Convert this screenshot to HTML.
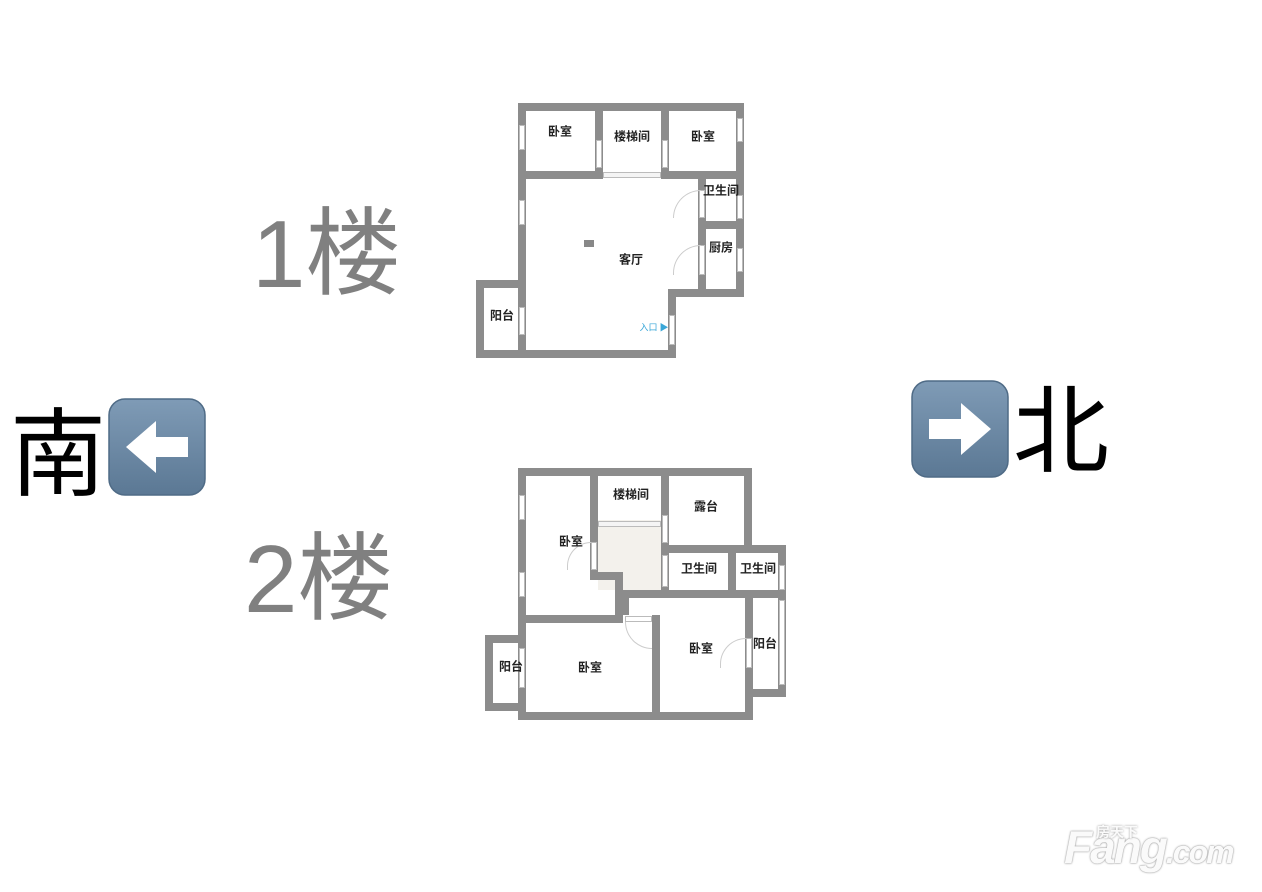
<!DOCTYPE html>
<html><head><meta charset="utf-8"><style>
html,body{margin:0;padding:0;background:#fff;}
body{width:1262px;height:892px;position:relative;overflow:hidden;font-family:"Liberation Sans","Noto Sans CJK SC",sans-serif;}
.w{position:absolute;background:#8c8c8c;}
.win{position:absolute;background:#fff;border:1px solid #bbb;box-sizing:border-box;}
.l{position:absolute;font-size:12px;font-weight:bold;color:#222;transform:translate(-50%,-50%);white-space:nowrap;font-family:"Noto Sans CJK SC",sans-serif;}
.big{position:absolute;font-family:"Liberation Sans","Noto Sans CJK SC",sans-serif;line-height:1;}
.door{position:absolute;border:1px solid #ccc;box-sizing:border-box;}
</style></head><body>

<!-- Big labels -->
<div class="big" style="left:252px;top:207px;font-size:96px;color:#808080;">1楼</div>
<div class="big" style="left:244px;top:532px;font-size:96px;color:#808080;">2楼</div>
<div class="big" style="left:10px;top:397px;font-size:96px;color:#000;font-family:'Noto Sans CJK SC',sans-serif;line-height:100px;">南</div>
<div class="big" style="left:1013px;top:374px;font-size:96px;color:#000;font-family:'Noto Sans CJK SC',sans-serif;line-height:100px;">北</div>

<!-- Arrow boxes -->
<svg style="position:absolute;left:108px;top:398px" width="98" height="98">
<defs><linearGradient id="g" x1="0" y1="0" x2="0" y2="1"><stop offset="0" stop-color="#7f9bb6"/><stop offset="1" stop-color="#5b7894"/></linearGradient></defs>
<rect x="1" y="1" width="96" height="96" rx="16" fill="url(#g)" stroke="#4f6b86" stroke-width="1.5"/>
<polygon points="18,49 48,23 48,39 80,39 80,59 48,59 48,75" fill="#fff"/>
</svg>
<svg style="position:absolute;left:911px;top:380px" width="98" height="98">
<rect x="1" y="1" width="96" height="96" rx="16" fill="url(#g)" stroke="#4f6b86" stroke-width="1.5"/>
<polygon points="80,49 50,23 50,39 18,39 18,59 50,59 50,75" fill="#fff"/>
</svg>

<!-- Floor 1 walls -->
<div class="w" style="left:518px;top:103px;width:226px;height:8px"></div>
<div class="w" style="left:518px;top:103px;width:8px;height:255px"></div>
<div class="w" style="left:518px;top:171px;width:85px;height:8px"></div>
<div class="w" style="left:661px;top:171px;width:83px;height:8px"></div>
<div class="win" style="left:603px;top:172px;width:58px;height:6px;background:#f4f4f4"></div>
<div class="w" style="left:595px;top:103px;width:8px;height:76px"></div>
<div class="w" style="left:661px;top:103px;width:8px;height:76px"></div>
<div class="w" style="left:736px;top:103px;width:8px;height:194px"></div>
<div class="w" style="left:698px;top:179px;width:8px;height:118px"></div>
<div class="w" style="left:698px;top:221px;width:46px;height:8px"></div>
<div class="w" style="left:668px;top:289px;width:76px;height:8px"></div>
<div class="w" style="left:668px;top:289px;width:8px;height:69px"></div>
<div class="w" style="left:476px;top:350px;width:200px;height:8px"></div>
<div class="w" style="left:476px;top:280px;width:8px;height:78px"></div>
<div class="w" style="left:476px;top:280px;width:50px;height:8px"></div>
<!-- F1 windows/doors -->
<div class="win" style="left:519px;top:125px;width:6px;height:25px"></div>
<div class="win" style="left:519px;top:200px;width:6px;height:25px"></div>
<div class="win" style="left:519px;top:307px;width:6px;height:28px"></div>
<div class="win" style="left:737px;top:118px;width:6px;height:24px"></div>
<div class="win" style="left:737px;top:195px;width:6px;height:24px"></div>
<div class="win" style="left:737px;top:248px;width:6px;height:24px"></div>
<div class="win" style="left:596px;top:140px;width:6px;height:28px"></div>
<div class="win" style="left:662px;top:140px;width:6px;height:28px"></div>
<div class="win" style="left:699px;top:190px;width:6px;height:28px"></div>
<div class="win" style="left:699px;top:245px;width:6px;height:30px"></div>
<div class="win" style="left:669px;top:315px;width:6px;height:30px"></div>
<div class="door" style="left:673px;top:190px;width:28px;height:28px;border-radius:28px 0 0 0;border-right:none;border-bottom:none"></div>
<div class="door" style="left:673px;top:245px;width:28px;height:30px;border-radius:30px 0 0 0;border-right:none;border-bottom:none"></div>
<div class="w" style="left:584px;top:240px;width:10px;height:7px;background:#888"></div>

<div class="l" style="left:560px;top:131px">卧室</div>
<div class="l" style="left:632px;top:136px">楼梯间</div>
<div class="l" style="left:703px;top:136px">卧室</div>
<div class="l" style="left:721px;top:190px">卫生间</div>
<div class="l" style="left:721px;top:247px">厨房</div>
<div class="l" style="left:631px;top:259px">客厅</div>
<div class="l" style="left:502px;top:315px">阳台</div>
<div class="l" style="left:654px;top:327px;color:#3aa7d8;font-size:9px;font-weight:normal">入口 ▶</div>

<!-- Floor 2 walls -->
<div style="position:absolute;left:598px;top:520px;width:63px;height:70px;background:#f3f1ec"></div>
<div class="w" style="left:518px;top:468px;width:234px;height:8px"></div>
<div class="w" style="left:518px;top:468px;width:8px;height:252px"></div>
<div class="w" style="left:590px;top:468px;width:8px;height:112px"></div>
<div class="w" style="left:661px;top:468px;width:8px;height:130px"></div>
<div class="w" style="left:744px;top:468px;width:8px;height:85px"></div>
<div class="w" style="left:661px;top:545px;width:125px;height:8px"></div>
<div class="w" style="left:778px;top:545px;width:8px;height:152px"></div>
<div class="w" style="left:728px;top:545px;width:8px;height:53px"></div>
<div class="w" style="left:661px;top:590px;width:125px;height:8px"></div>
<div class="w" style="left:590px;top:572px;width:33px;height:8px"></div>
<div class="w" style="left:615px;top:572px;width:8px;height:51px"></div>
<div class="w" style="left:518px;top:615px;width:105px;height:8px"></div>
<div class="w" style="left:652px;top:615px;width:8px;height:105px"></div>
<div class="w" style="left:745px;top:590px;width:8px;height:130px"></div>
<div class="w" style="left:518px;top:712px;width:235px;height:8px"></div>
<div class="w" style="left:745px;top:689px;width:41px;height:8px"></div>
<div class="w" style="left:485px;top:635px;width:8px;height:76px"></div>
<div class="w" style="left:485px;top:635px;width:41px;height:8px"></div>
<div class="w" style="left:485px;top:703px;width:41px;height:8px"></div>
<div class="w" style="left:623px;top:590px;width:38px;height:8px"></div>
<div class="w" style="left:623px;top:598px;width:6px;height:17px"></div>
<!-- F2 windows/doors -->
<div class="win" style="left:598px;top:521px;width:63px;height:6px;background:#f4f4f4"></div>
<div class="win" style="left:519px;top:495px;width:6px;height:25px"></div>
<div class="win" style="left:519px;top:572px;width:6px;height:25px"></div>
<div class="win" style="left:591px;top:542px;width:6px;height:28px"></div>
<div class="win" style="left:662px;top:515px;width:6px;height:28px"></div>
<div class="win" style="left:662px;top:555px;width:6px;height:32px"></div>
<div class="win" style="left:779px;top:565px;width:6px;height:25px"></div>
<div class="win" style="left:779px;top:600px;width:6px;height:85px"></div>
<div class="win" style="left:746px;top:638px;width:6px;height:30px"></div>
<div class="win" style="left:519px;top:648px;width:6px;height:40px"></div>
<div class="win" style="left:625px;top:616px;width:27px;height:6px"></div>
<div class="door" style="left:567px;top:542px;width:24px;height:28px;border-radius:28px 0 0 0;border-right:none;border-bottom:none"></div>
<div class="door" style="left:720px;top:638px;width:26px;height:30px;border-radius:30px 0 0 0;border-right:none;border-bottom:none"></div>
<div class="door" style="left:625px;top:622px;width:27px;height:27px;border-radius:0 0 0 27px;border-right:none;border-top:none"></div>

<div class="l" style="left:631px;top:494px">楼梯间</div>
<div class="l" style="left:706px;top:506px">露台</div>
<div class="l" style="left:571px;top:541px">卧室</div>
<div class="l" style="left:699px;top:568px">卫生间</div>
<div class="l" style="left:758px;top:568px">卫生间</div>
<div class="l" style="left:701px;top:648px">卧室</div>
<div class="l" style="left:765px;top:643px">阳台</div>
<div class="l" style="left:511px;top:666px">阳台</div>
<div class="l" style="left:590px;top:667px">卧室</div>

<!-- Logo -->
<div style="position:absolute;left:1064px;top:820px;font-size:46px;font-weight:bold;font-style:italic;color:#fafafa;text-shadow:0 0 2px #999,0 0 1px #999;font-family:'Liberation Sans',sans-serif;letter-spacing:-2px">Fang<span style="font-size:32px">.com</span></div>
<div style="position:absolute;left:1096px;top:822px;font-size:14px;font-weight:bold;color:#fafafa;text-shadow:0 0 2px #999;font-family:'Noto Sans CJK SC',sans-serif">房天下</div>
</body></html>
